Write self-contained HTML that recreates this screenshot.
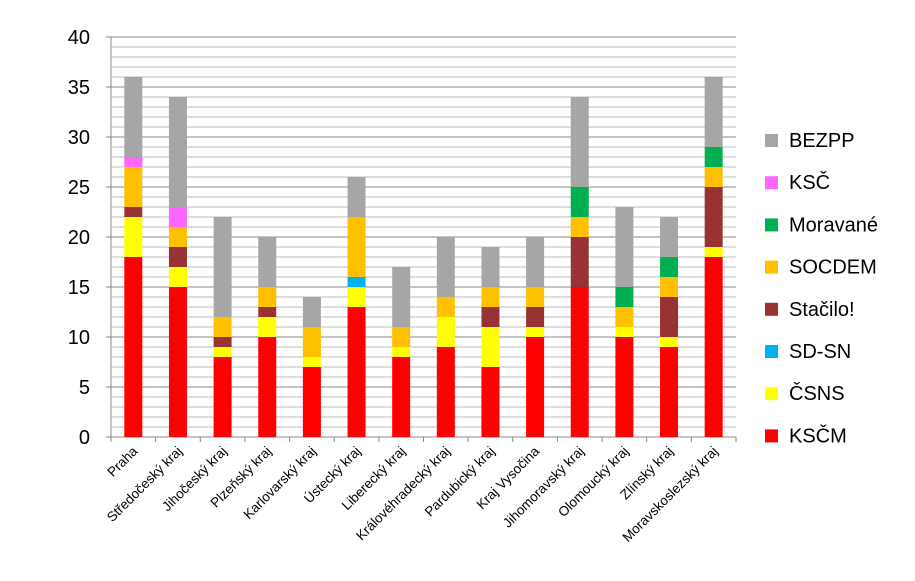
<!DOCTYPE html>
<html><head><meta charset="utf-8"><style>
body{margin:0;background:#fff;}
svg text{font-family:"Liberation Sans","DejaVu Sans",sans-serif;}
</style></head><body>
<svg id="chart" width="915" height="576" xmlns="http://www.w3.org/2000/svg"></svg>
<script>
const categories=["Praha","Středočeský kraj","Jihočeský kraj","Plzeňský kraj","Karlovarský kraj","Ústecký kraj","Liberecký kraj","Královéhradecký kraj","Pardubický kraj","Kraj Vysočina","Jihomoravský kraj","Olomoucký kraj","Zlínský kraj","Moravskoslezský kraj"];
const seriesNames=["KSČM","ČSNS","SD-SN","Stačilo!","SOCDEM","Moravané","KSČ","BEZPP"];
const seriesColors=["#ff0000","#ffff00","#00b0f0","#993333","#ffc000","#00b050","#ff66ff","#a6a6a6"];
const ksCM=[18,15,8,10,7,13,8,9,7,10,15,10,9,18];
const csns=[4,2,1,2,1,2,1,3,4,1,0,1,1,1];
const sdsn=[0,0,0,0,0,1,0,0,0,0,0,0,0,0];
const stacilo=[1,2,1,1,0,0,0,0,2,2,5,0,4,6];
const socdem=[4,2,2,2,3,6,2,2,2,2,2,2,2,2];
const moravane=[0,0,0,0,0,0,0,0,0,0,3,2,2,2];
const ksc=[1,2,0,0,0,0,0,0,0,0,0,0,0,0];
const bezpp=[8,11,10,5,3,4,6,6,4,5,9,8,4,7];
const yTicks=[0,5,10,15,20,25,30,35,40];
const seriesData=[ksCM,csns,sdsn,stacilo,socdem,moravane,ksc,bezpp];

const svg=document.getElementById('chart');
const NS='http://www.w3.org/2000/svg';
const x0=111,x1=736,y0=437,yTop=37,yMax=40;
const y=v=>y0-(v/yMax)*(y0-yTop);
const band=(x1-x0)/categories.length;
const cx=i=>x0+band*(i+0.5);
function mk(t,a){const e=document.createElementNS(NS,t);for(const k in a)e.setAttribute(k,a[k]);svg.appendChild(e);return e;}

for(let v=0;v<=yMax;v++){
  const g=mk('line',{x1:x0,x2:x1,y1:y(v),y2:y(v),stroke:v%5===0?'#888':'#bdbdbd','stroke-width':1});
  
  
}
yTicks.forEach(v=>{
  const t=mk('text',{x:90,y:y(v)+7,'text-anchor':'end','font-size':20,fill:'#000'});
  t.textContent=v;
  
  
  const tk=mk('line',{x1:x0-5,x2:x0,y1:y(v),y2:y(v),stroke:'#888'});
  
  
});
const ax=mk('line',{x1:x0,x2:x0,y1:yTop,y2:y0,stroke:'#888'});


const xa=mk('line',{x1:x0,x2:x1,y1:y0,y2:y0,stroke:'#888'});


for(let i=0;i<=categories.length;i++){
  const tk=mk('line',{x1:x0+band*i,x2:x0+band*i,y1:y0,y2:y0+5,stroke:'#888'});
  
  
}
const bw=18;
categories.forEach((c,i)=>{
  let acc=0;
  seriesData.forEach((s,k)=>{
    const v=s[i];
    if(v>0){
      const r=mk('rect',{x:cx(i)-bw/2,y:y(acc+v),width:bw,height:y(acc)-y(acc+v),fill:seriesColors[k]});
      
      
    }
    acc+=v;
  });
  const lx=cx(i)+5,ly=452;
  const t=mk('text',{x:lx,y:ly,'text-anchor':'end','font-size':13.5,fill:'#000',transform:`rotate(-45 ${lx} ${ly})`});
  t.textContent=c;
  
  
});
for(let k=seriesNames.length-1,j=0;k>=0;k--,j++){
  const ly=140+j*42.2;
  const r=mk('rect',{x:765,y:ly-6,width:13,height:13,fill:seriesColors[k]});
  
  
  const t=mk('text',{x:789,y:ly+7,'font-size':20,fill:'#000'});
  t.textContent=seriesNames[k];
  
  
}
</script>
</body></html>
